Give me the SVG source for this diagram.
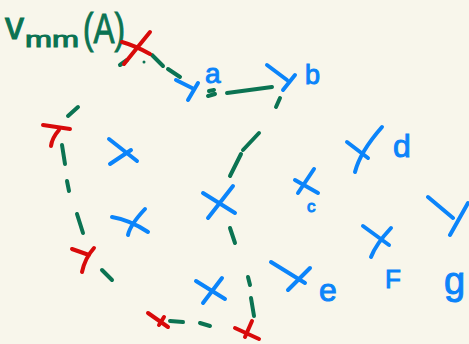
<svg xmlns="http://www.w3.org/2000/svg" width="469" height="344" viewBox="0 0 469 344">
<style>
.g{stroke:#0b7352;stroke-width:4;stroke-linecap:round;fill:none}
.b{stroke:#0b84fa;stroke-width:4;stroke-linecap:round;stroke-linejoin:round;fill:none}
.r{stroke:#d80a0a;stroke-width:4;stroke-linecap:round;fill:none}
.tb{fill:#0b84fa;stroke:#0b84fa;stroke-width:1;font-family:"Liberation Sans",Arial,sans-serif}
.tg{fill:#0b7352;stroke:#0b7352;stroke-width:1;font-family:"Liberation Sans",Arial,sans-serif}
</style>
<rect width="469" height="344" fill="#f8f6eb"/>
<g id="title">
<text class="tg" x="5" y="39" font-size="38">v</text>
<text class="tg" x="25" y="47" font-size="22" textLength="54" lengthAdjust="spacingAndGlyphs">mm</text>
<text class="tg" x="83" y="43" font-size="42" textLength="42" lengthAdjust="spacingAndGlyphs">(A)</text>
</g>
<g id="connectors">
<path class="g" d="M120 65 L127 60"/>
<circle cx="144" cy="62" r="1.5" fill="#0b7352"/>
<path class="g" d="M152 55 L163 66 M168 69 L180 77"/>
<path class="g" d="M208 96 L215 94 M209 91 L214 90 M227 93 L272 87"/>
<path class="g" d="M280 98 L276 107 M259 133 L243 150 M241 154 L230 176"/>
<path class="g" d="M230 228 L235 243 M248 277 L250 285 M251 298 L254 316"/>
<path class="g" d="M170 321 L183 322 M200 323 L210 326"/>
<path class="g" d="M78 107 L68 116 M62 145 L65 164 M67 181 L69 191 M77 214 L83 233 M102 270 L112 280"/>
</g>
<g id="node-A">
<path class="r" d="M150 32 L124 64 M122 42 Q136 46 150 54"/>
</g>
<g id="node-a">
<path class="b" d="M176 80 L192 88 M198 83 L188 100"/>
<text class="tb" x="205" y="83" font-size="28">a</text>
</g>
<g id="node-b">
<path class="b" d="M267 65 L287 80 M295 75 L283 90"/>
<text class="tb" x="305" y="84" font-size="27">b</text>
</g>
<g id="node-left-top">
<path class="r" d="M43 125 L70 129 M59 130 Q52 138 51 146"/>
</g>
<g id="node-left-bottom">
<path class="r" d="M72 249 L89 255 M94 248 Q85 258 82 272"/>
</g>
<g id="node-x1"><path class="b" d="M109 139 L137 161 M110 164 L131 150"/></g>
<g id="node-x2"><path class="b" d="M112 217 Q130 220 148 232 M145 209 Q130 225 128 235"/></g>
<g id="node-x3"><path class="b" d="M203 193 L235 213 M233 186 L208 218"/></g>
<g id="node-x4"><path class="b" d="M196 281 L225 299 M222 278 L203 303"/></g>
<g id="node-c">
<path class="b" d="M295 180 L318 193 M314 169 L298 193"/>
<text class="tb" x="307" y="212" font-size="17">c</text>
</g>
<g id="node-d">
<path class="b" d="M347 142 L368 158 M382 127 Q360 152 355 172"/>
<text class="tb" x="393" y="157" font-size="32">d</text>
</g>
<g id="node-e">
<path class="b" d="M271 262 L305 283 M310 268 L288 290"/>
<text class="tb" x="319" y="301" font-size="32">e</text>
</g>
<g id="node-f">
<path class="b" d="M363 226 L389 245 M391 228 Q376 244 371 257"/>
<text class="tb" x="385" y="288" font-size="26">F</text>
</g>
<g id="node-g">
<path class="b" d="M428 197 L453 218 M468 203 L450 235"/>
<text class="tb" x="444" y="294" font-size="38">g</text>
</g>
<g id="node-bottom-left">
<path class="r" d="M148 313 L168 327 M164 317 L159 325"/>
</g>
<g id="node-bottom-right">
<path class="r" d="M235 328 L259 339 M252 321 L245 337"/>
</g>
</svg>
